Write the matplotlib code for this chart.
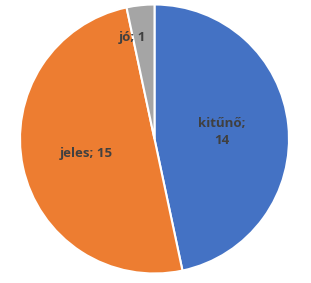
import numpy as np
import matplotlib
matplotlib.use('Agg')
import matplotlib.pyplot as plt

categories = ['kitűnő', 'jeles', 'jó']
values = [14, 15, 1]
colors = ['#4472C4', '#ED7D31', '#A5A5A5']
label_texts = ['kitűnő;\n14', 'jeles; 15', 'jó; 1']
label_dist = [0.50, 0.52, 0.77]
label_shift = [0, 0, 6]  # degrees, label placement tweak

fig = plt.figure(figsize=(3.11, 2.83), dpi=100)
ax = fig.add_axes([20 / 311, 9.5 / 283, 269 / 311, 269 / 283])

wedges, _ = ax.pie(values, colors=colors, startangle=90, counterclock=False,
                   wedgeprops=dict(edgecolor='white', linewidth=1.5))

for w, txt, d, sh in zip(wedges, label_texts, label_dist, label_shift):
    ang = np.deg2rad((w.theta1 + w.theta2) / 2 + sh)
    ax.text(d * np.cos(ang), d * np.sin(ang), txt, ha='center', va='center',
            fontsize=9.5, fontweight='bold', color='#404040',
            family=['Open Sans', 'DejaVu Sans'], linespacing=1.35)

ax.set_xlim(-1, 1)
ax.set_ylim(-1, 1)
fig.savefig('out.png', dpi=100)
